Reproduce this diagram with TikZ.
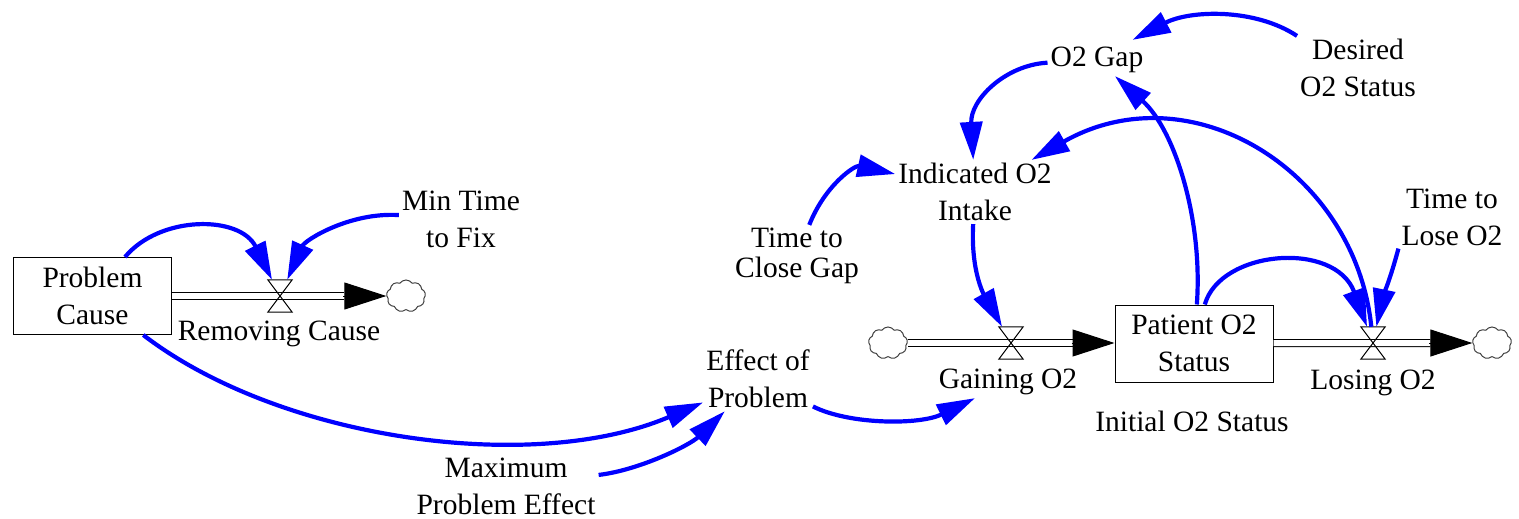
\documentclass[tikz,border=0pt]{standalone}
\usepackage{fontspec}
\newfontfamily\diagfont{Liberation Serif}
\usetikzlibrary{arrows.meta,shapes.symbols,calc}

\begin{document}
\diagfont
\begin{tikzpicture}[x=1pt,y=-1pt,
  var/.style={align=center, inner sep=3pt, font=\diagfont\fontsize{29.5}{37}\selectfont},
  stock/.style={draw, line width=1pt, minimum width=158pt, minimum height=77pt, align=center,
                inner sep=3pt, font=\diagfont\fontsize{29.5}{37}\selectfont},
  valve/.style={minimum width=24pt, minimum height=32pt, inner sep=0pt},
  sink/.style={cloud, cloud puffs=9, cloud puff arc=110, draw=black!75, line width=1pt,
               minimum width=39pt, minimum height=32pt, inner sep=0pt},
  pipe/.style={draw, line width=1pt, double, double distance=6pt},
  flowtip/.style={line width=1pt, -{Triangle[length=42pt,width=27pt]}},
  link/.style={draw=blue, line width=4.2pt, -{Triangle[length=38pt,width=22pt]}}
]
\useasboundingbox (0,0) rectangle (1519,519);

% stocks, valves and clouds
\node[stock] (pc)  at (92.5,296) {Problem\\Cause};
\node[valve] (vrc) at (280,296) {};
\node[sink]  (c1)  at (406,296) {};

\node[sink]  (c2)  at (888,343) {};
\node[valve] (vg)  at (1011,343) {};
\node[stock] (pos) at (1194,343.5) {Patient O2\\Status};
\node[valve] (vl)  at (1373,343) {};
\node[sink]  (c3)  at (1492,343) {};

% variable names
\node[var] (lrc)  at (279,334)   {Removing Cause};
\node[var] (lmt)  at (461,219)   {Min Time\\to Fix};
\node[var] (lep)  at (758,379)   {Effect of\\Problem};
\node[var] (lmpe) at (506,486)   {Maximum\\Problem Effect};
\node[var] (lg)   at (1008,382)  {Gaining O2};
\node[var] (ll)   at (1373,383)  {Losing O2};
\node[var] (lios) at (1192,421)  {Initial O2 Status};
\node[var, font=\diagfont\fontsize{29.5}{30}\selectfont] (ltcg) at (797,256) {Time to\\Close Gap};
\node[var] (lio)  at (975,192)   {Indicated O2\\Intake};
\node[var] (lgap) at (1097,60)   {O2 Gap};
\node[var] (ldes) at (1358,68)   {Desired\\O2 Status};
\node[var] (ltl)  at (1452,217)  {Time to\\Lose O2};

% flow pipes
\draw[pipe, shorten >=42pt] (pc.east) -- (pc.east -| c1.west);
\draw[flowtip] ($(c1.west)+(-43,0)$) -- (c1.west);

\draw[pipe, shorten >=42pt] (c2.east) -- (c2.east -| pos.west);
\draw[flowtip] ($(c2.east -| pos.west)+(-43,0)$) -- (c2.east -| pos.west);

\draw[pipe, shorten >=42pt] (pos.east |- vl) -- (c3.west);
\draw[flowtip] ($(c3.west)+(-43,0)$) -- (c3.west);

% valve bow ties
\foreach \v in {vrc,vg,vl}
  \draw[line width=1pt] (\v.north west) -- (\v.north east) -- (\v.south west) -- (\v.south east) -- cycle;

% causal links
\draw[link] (pc) .. controls (160,215) and (240,215) .. (vrc);
\draw[link] (lmt) .. controls (350,212) and (305,240) .. (vrc);
\draw[link] (pc) .. controls (280,440) and (533,475) .. (lep);
\draw[link] (lmpe) .. controls (640,470) and (690,445) .. (lep);
\draw[link] (lep) .. controls (850,425) and (920,425) .. (lg);
\draw[link] (ltcg) .. controls (825,185) and (855,165) .. (lio);
\draw[link] (lio) .. controls (970,280) and (990,305) .. (vg);
\draw[link] (lgap) .. controls (1005,65) and (970,100) .. (lio);
\draw[link] (ldes.north west) .. controls (1255,8) and (1190,10) .. ([shift={(-14,-4)}]lgap.north east);
\draw[link] (pos) .. controls (1203,220) and (1175,130) .. (lgap);
\draw[link] (vl) .. controls (1355,170) and (1190,70) .. (lio);
\draw[link] (pos) .. controls (1220,250) and (1335,240) .. (vl);
\draw[link] (ltl.south west) .. controls (1390,280) and (1382,300) .. (vl);
\end{tikzpicture}
\end{document}
